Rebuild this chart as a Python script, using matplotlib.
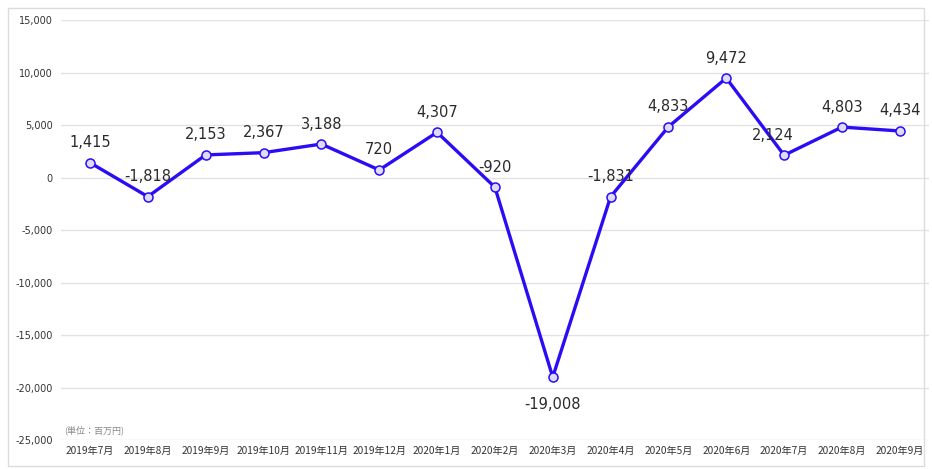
import matplotlib.pyplot as plt
from matplotlib.patches import Rectangle

plt.rcParams['font.family'] = ['Noto Sans CJK JP', 'DejaVu Sans']

months = ["2019年7月", "2019年8月", "2019年9月", "2019年10月", "2019年11月",
          "2019年12月", "2020年1月", "2020年2月", "2020年3月", "2020年4月",
          "2020年5月", "2020年6月", "2020年7月", "2020年8月", "2020年9月"]
values = [1415, -1818, 2153, 2367, 3188, 720, 4307, -920, -19008, -1831,
          4833, 9472, 2124, 4803, 4434]
y_ticks = [15000, 10000, 5000, 0, -5000, -10000, -15000, -20000, -25000]

fig = plt.figure(figsize=(9.32, 4.69), dpi=100)
ax = fig.add_axes([0.0655, 0.0618, 0.931, 0.8955])

# outer frame around the chart
fig.patches.append(Rectangle((0.009, 0.006), 0.982, 0.977, transform=fig.transFigure,
                             fill=False, edgecolor="#dcdcdc", linewidth=1))

x = list(range(len(months)))
ax.plot(x, values, color="#2a0cf5", linewidth=2.4, zorder=3,
        marker="o", markersize=6.5, markerfacecolor="#dedbfb",
        markeredgecolor="#2a0cf5", markeredgewidth=1.1)

for i, v in enumerate(values):
    if v == min(values):
        ax.annotate(f"{v:,}", (i, v), xytext=(0, -14), textcoords="offset points",
                    ha="center", va="top", fontsize=10.5, color="#2a2a2a",
                    family="DejaVu Sans")
    else:
        dx = -8 if i == 12 else 0
        ax.annotate(f"{v:,}", (i, v), xytext=(dx, 9), textcoords="offset points",
                    ha="center", va="bottom", fontsize=10.5, color="#2a2a2a",
                    family="DejaVu Sans")

ax.set_xlim(-0.5, len(months) - 0.5)
ax.set_ylim(-25000, 15000)
ax.set_yticks(y_ticks)
ax.set_yticklabels([f"{t:,}" for t in y_ticks], fontsize=7, color="#333333",
                   family="DejaVu Sans")
ax.set_xticks(x)
ax.set_xticklabels(months, fontsize=7.3, color="#333333")
ax.tick_params(length=0, pad=4)
ax.tick_params(axis="y", pad=6)

ax.grid(axis="y", color="#e2e2e2", linewidth=1)
ax.set_axisbelow(True)
for s in ax.spines.values():
    s.set_visible(False)

ax.text(0.003, 0.012, "(単位：百万円)", transform=ax.transAxes, fontsize=6.5,
        color="#888888", va="bottom")

fig.savefig("out.png", dpi=100)
